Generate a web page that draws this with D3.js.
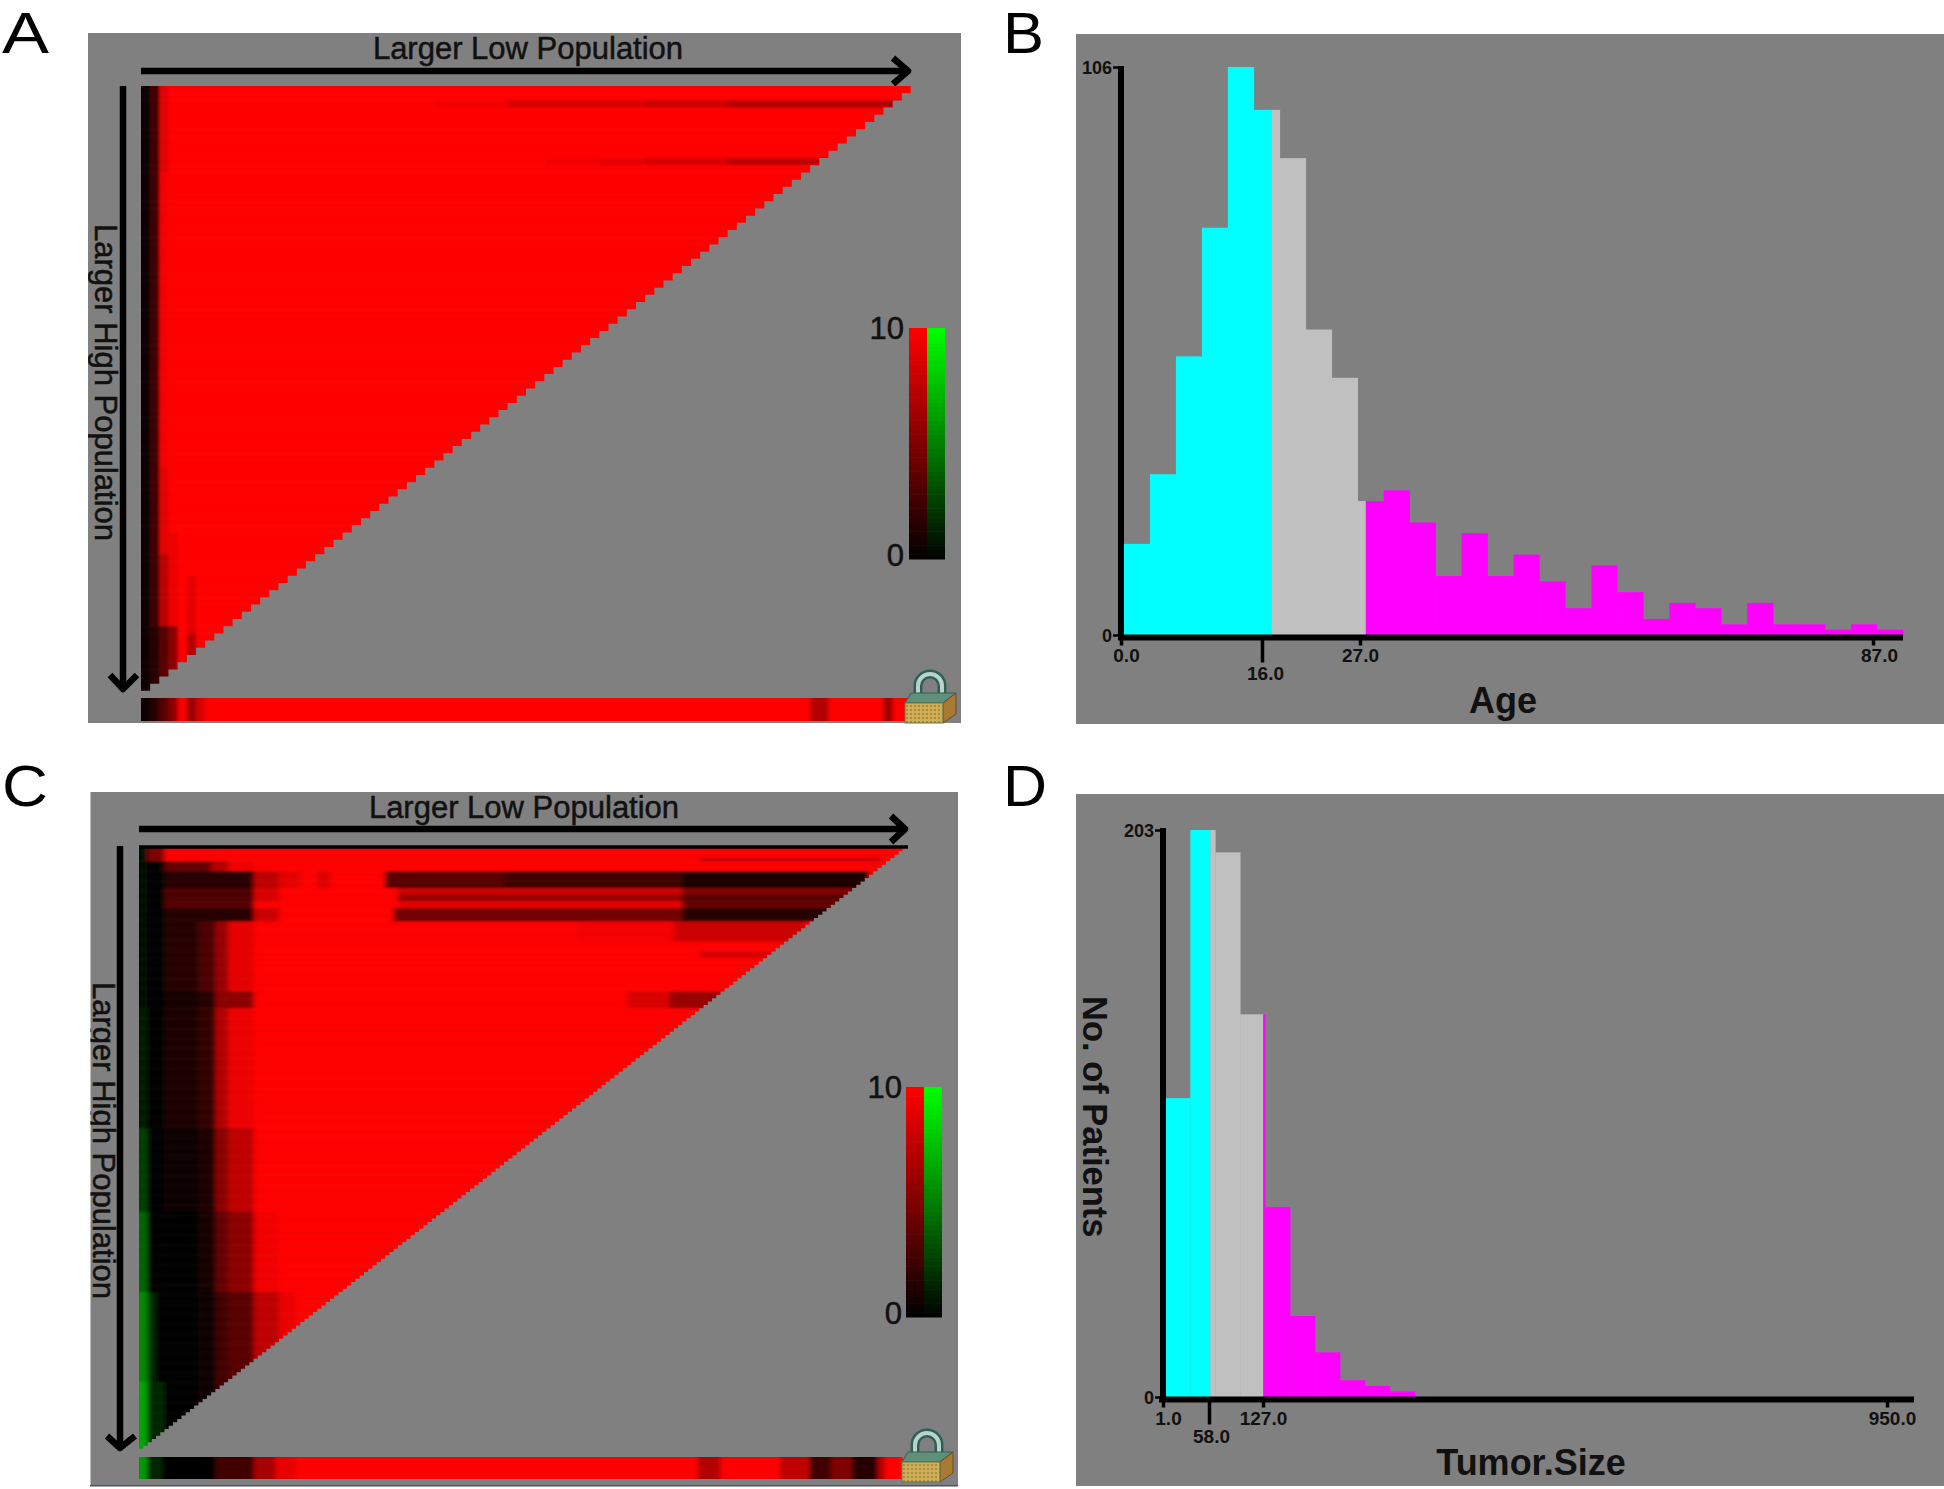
<!DOCTYPE html>
<html><head><meta charset="utf-8">
<script src="https://cdnjs.cloudflare.com/ajax/libs/d3/7.8.5/d3.min.js"></script>
<style>html,body{margin:0;padding:0;background:#fff}svg{display:block}text{font-family:"Liberation Sans",Arial,sans-serif}</style>
</head><body><svg id="fig" width="1944" height="1489"></svg>
<script>
// ---------- Data ----------
const ageBins = [17,30,52,76,106,98,89,57,48,25,27,21,11,19,11,15,10,5,13,8,3,6,5,2,6,2,2,1,2,1];
const ageDomain = [0,87];
const ageCuts = [16.45,27];
const ageTicks = [0,16,27,87];
const ageYTicks = [0,106];
const sizeBins = [107,203,195,137,68,29,16,6,4,2];
const sizeBinWidth = 31.63;
const sizeDomain = [1,950];
const sizeCuts = [58,125];
const sizeTicks = [1,58,127,950];
const sizeYTicks = [0,203];
const legendTicks = [0,10];
// heat map A / C: base value 10, patches [row0,row1,col0,col1,value], -ve = green
const gridA = 84;
const patchesA = [[0,84,0,1,0.4],[0,84,1,2,2.5],[0,12,2,3,9],[12,53,2,3,9.6],[53,65,2,3,9],[65,75,2,3,7.5],[75,84,1,2,1.5],[75,84,2,3,3.5],[62,75,3,4,9.3],[75,84,3,4,5.5],[68,76,5,6,9],[76,84,5,6,7],[2,3,32,40,9.5],[2,3,40,55,8.5],[2,3,55,64,8],[2,3,64,84,7],[10,11,44,50,9.6],[10,11,50,55,9],[10,11,55,64,8.5],[10,11,64,80,7.5]];
const stripA = [[0,1,0.3],[1,2,1.5],[2,3,3.5],[3,4,5.5],[4,5,10],[5,6,6],[6,7,8.5],[7,73,10],[73,75,7],[75,81,10],[81,82,6],[82,84,10]];
const gridC = 180;
const patchesC = [[0,180,0,2,-0.5],[0,180,2,6,0.1],[48,84,0,2,-1],[84,109,0,2,-2.5],[109,133,0,2,-4],[133,160,0,2,-5.5],[160,180,0,2,-6.5],[133,180,2,4,-1.5],[160,180,4,6,-1.5],[0,4,2,6,5],
[4,7,6,17,4],[4,7,17,21,7],[4,7,21,27,9.3],[7,12,6,27,1.5],[7,12,27,33,7.5],[7,12,33,38,9],[7,12,42,45,8.7],[12,16,6,27,3],[12,16,27,33,8.5],[16,18,6,27,3.5],[18,22,6,27,1.5],[18,22,27,33,8],
[22,43,6,14,1.5],[22,43,14,18,3],[22,43,18,21,6],[22,43,21,27,9],[43,48,6,14,0.8],[43,48,14,18,1.5],[43,48,18,27,5.5],[48,84,6,14,1],[48,84,14,18,2],[48,84,18,21,7],[48,84,21,27,9.3],
[84,109,6,14,0.5],[84,109,14,18,1.2],[84,109,18,21,5.5],[84,109,21,27,7.5],[109,133,6,14,0.2],[109,133,14,18,0.8],[109,133,18,21,4],[109,133,21,27,5.5],[109,133,27,33,9.5],[133,180,6,14,0.1],[133,180,14,18,0.5],[133,180,18,21,2.5],[133,180,21,27,3.5],[133,180,27,33,7.5],[133,180,33,37,9.3],
[3,4,132,175,7.5],[7,12,58,86,3.5],[7,12,86,128,2.5],[7,12,128,172,1],[12,14,61,128,8],[12,14,128,170,5],[14,16,61,128,6],[14,16,128,170,3.5],[16,18,61,128,9],[16,18,128,170,4],[18,22,60,128,4.5],[18,22,128,163,1.5],[22,28,126,157,8],[22,28,103,126,9.6],[31,33,132,151,8.5],[43,48,125,137,6],[43,48,115,125,8.5]];
const stripC = [[0,2,-6],[2,5.4,-1.5],[5.4,18,0.1],[18,27,2.5],[27,32,6.5],[32,37,9],[37,131.6,10],[131.6,137,7],[137,151,10],[151,158,7.5],[158,163,2.5],[163,168,5],[168,174,1.5],[174,175.7,7],[175.7,180,10]];

// ---------- Helpers ----------
const svg = d3.select("#fig");
const defs = svg.append("defs");
const heatColor = d3.scaleLinear().domain([-10,0,10]).range(["#00ff00","#000000","#ff0000"]).clamp(true);
const BG = "#808080";
const regionColors = ["#00ffff","#c0c0c0","#ff00ff"];

[["blurA","1.4 0.8"],["blurC","2.6 1.2"],["blurS","2 0.6"]].forEach(([id,s])=>{
  defs.append("filter").attr("id",id).attr("x","-5%").attr("y","-10%").attr("width","110%").attr("height","120%")
    .append("feGaussianBlur").attr("stdDeviation",s);
});
const pat = defs.append("pattern").attr("id","stipple").attr("width",4).attr("height",4).attr("patternUnits","userSpaceOnUse");
pat.append("rect").attr("width",4).attr("height",4).attr("fill","#cfae55");
pat.append("circle").attr("cx",2).attr("cy",2).attr("r",0.9).attr("fill","#9a7a3a");

function panelBg(x,y,w,h){ svg.append("rect").attr("x",x).attr("y",y).attr("width",w).attr("height",h).attr("fill",BG); }
function letter(t,x,y,w){ svg.append("text").attr("x",x).attr("y",y).attr("font-size",58).attr("fill","#000").attr("textLength",w).attr("lengthAdjust","spacingAndGlyphs").text(t); }
function heavy(sel){ return sel.attr("fill","#111").attr("stroke","#111").attr("stroke-width",0.5); }

function arrow(pts){
  svg.append("path").attr("d",d3.line()(pts)).attr("fill","none").attr("stroke","#000").attr("stroke-width",6.5).attr("stroke-linejoin","round").attr("stroke-linecap","butt");
}

function heatmap(o){
  const x = d3.scaleLinear().domain([0,o.n]).range([o.x0,o.x1]);
  const y = d3.scaleLinear().domain([0,o.n]).range([o.y0,o.y1]);
  const grid = d3.range(o.n).map(()=>d3.range(o.n).map(()=>10));
  o.patches.forEach(([r0,r1,c0,c1,v])=>{
    for(let r=r0;r<r1;r++) for(let c=c0;c<c1;c++) grid[r][c]=v;
  });
  const cells=[];
  grid.forEach((row,r)=>{
    let c0=0;
    for(let c=1;c<=o.n;c++){
      if(c===o.n||row[c]!==row[c0]){cells.push({r,c0,c1:c,v:row[c0]});c0=c;}
    }
  });
  // staircase outline
  const stair=[[x(0),y(0)],[x(o.n),y(0)]];
  for(let r=0;r<o.n;r++){ stair.push([x(o.n-r),y(r+1)]); stair.push([x(o.n-r-1),y(r+1)]); }
  defs.append("clipPath").attr("id",o.id+"-stair").append("path").attr("d",d3.line()(stair)+"Z");
  const g = svg.append("g").attr("clip-path",`url(#${o.id}-stair)`).append("g").attr("filter",`url(#${o.blur})`);
  const padL=d=>d.c0===0?8:0, padT=d=>d.r===0?8:0;
  g.selectAll("rect").data(cells).join("rect")
    .attr("x",d=>x(d.c0)-padL(d)).attr("y",d=>y(d.r)-padT(d))
    .attr("width",d=>x(d.c1)-x(d.c0)+0.4+padL(d)).attr("height",d=>y(d.r+1)-y(d.r)+0.4+padT(d))
    .attr("fill",d=>heatColor(d.v));
  // marginal strip
  defs.append("clipPath").attr("id",o.id+"-strip").append("rect").attr("x",o.x0).attr("y",o.sy0).attr("width",o.x1-o.x0).attr("height",o.sy1-o.sy0);
  svg.append("g").attr("clip-path",`url(#${o.id}-strip)`).append("g").attr("filter","url(#blurS)").selectAll("rect").data(o.strip).join("rect")
    .attr("x",d=>x(d[0])-(d[0]===0?8:0)).attr("width",d=>x(d[1])-x(d[0])+0.4+(d[0]===0?8:0))
    .attr("y",o.sy0-6).attr("height",o.sy1-o.sy0+12).attr("fill",d=>heatColor(d[2]));
}

function colorbar(x,x2,x3,y0,y1,labelX){
  const y = d3.scaleLinear().domain(legendTicks).range([y1,y0]);
  const steps = d3.range(0,10,0.2);
  const g = svg.append("g");
  g.selectAll("rect.r").data(steps).join("rect").attr("class","r")
    .attr("x",x).attr("width",x2-x).attr("y",d=>y(d+0.2)).attr("height",y(0)-y(0.2)+0.5).attr("fill",d=>heatColor(d+0.1));
  g.selectAll("rect.g").data(steps).join("rect").attr("class","g")
    .attr("x",x2).attr("width",x3-x2).attr("y",d=>y(d+0.2)).attr("height",y(0)-y(0.2)+0.5).attr("fill",d=>heatColor(-d-0.1));
  heavy(g.selectAll("text").data(legendTicks).join("text").attr("x",labelX).attr("y",d=>d===0?y(0)-4+11:y(d)+11)
    .attr("text-anchor","end").attr("font-size",31).text(d=>d));
}

function lock(x,y){
  const g = svg.append("g").attr("transform",`translate(${x},${y})`);
  const shackle="M13,32 L13,14 A12,12 0 0 1 37,14 L37,32";
  g.append("path").attr("d",shackle).attr("fill","none").attr("stroke","#2f5f54").attr("stroke-width",9);
  g.append("path").attr("d",shackle).attr("fill","none").attr("stroke","#b9d2ca").attr("stroke-width",4);
  g.append("path").attr("d","M0,31 L6,21 L51,21 L38,31 Z").attr("fill","#5f917a").attr("stroke","#2f5f54");
  g.append("path").attr("d","M38,31 L51,21 L51,42 L38,51 Z").attr("fill","#a87a34").attr("stroke","#6b4d20");
  g.append("rect").attr("x",0).attr("y",31).attr("width",38).attr("height",20).attr("fill","url(#stipple)").attr("stroke","#5f7a50");
}

function hist(o){
  const x = d3.scaleLinear().domain(o.domain).range(o.xRange);
  const y = d3.scaleLinear().domain(o.yTicks).range(o.yRange);
  const segs=[];
  const edges=[o.domain[0],...o.cuts,Infinity];
  o.bins.forEach((v,i)=>{
    const a=o.domain[0]+i*o.binWidth, b=a+o.binWidth;
    for(let k=0;k<3;k++){
      const l=Math.max(a,edges[k]), r=Math.min(b,edges[k+1]);
      if(r>l) segs.push({l,r,v,k});
    }
  });
  svg.append("g").selectAll("rect").data(segs).join("rect")
    .attr("x",d=>x(d.l)).attr("width",d=>x(d.r)-x(d.l)+0.3)
    .attr("y",d=>y(d.v)).attr("height",d=>y(0)-y(d.v))
    .attr("fill",d=>regionColors[d.k]);
  // axes
  const ax = d3.scaleLinear().domain(o.ticks).range(o.tickPx);
  const gx = svg.append("g").attr("transform",`translate(0,${o.axisY})`)
    .call(d3.axisBottom(ax).tickValues(o.ticks).tickFormat(d3.format(".1f")).tickSize(8).tickSizeOuter(0));
  gx.select(".domain").attr("stroke-width",6).attr("d",`M${o.axisX0},0H${o.axisX1}`);
  gx.selectAll(".tick line").attr("stroke","#000").attr("stroke-width",3.5)
    .attr("y2",(d,i)=>i===1?o.longTick:8);
  gx.selectAll(".tick text").attr("font-family","Liberation Sans").attr("font-weight","bold").attr("font-size",19).attr("fill","#111")
    .attr("dx",(d,i)=>o.labelDx[i]).attr("dy",0).attr("y",(d,i)=>i===1?o.labelY2:o.labelY1);
  const ay = d3.scaleLinear().domain(o.yTicks).range(o.yRange);
  const gy = svg.append("g").attr("transform",`translate(${o.axisX},0)`)
    .call(d3.axisLeft(ay).tickValues(o.yTicks).tickSize(8).tickPadding(1).tickSizeOuter(0));
  gy.select(".domain").attr("stroke-width",6).attr("d",`M0,${o.yTop}V${o.axisY+2}`);
  gy.selectAll(".tick line").attr("stroke","#000").attr("stroke-width",2.5);
  gy.selectAll(".tick text").attr("font-family","Liberation Sans").attr("font-weight","bold").attr("font-size",18).attr("dy","0.36em").attr("fill","#111");
  svg.append("text").attr("x",o.title.x).attr("y",o.title.y).attr("text-anchor","middle").attr("font-weight","bold").attr("font-size",36).attr("fill","#111").text(o.title.t);
}

// ---------- Panel A ----------
panelBg(88,33,873,690);
letter("A",2,53,47);
heavy(svg.append("text").attr("x",528).attr("y",59).attr("text-anchor","middle").attr("font-size",31).text("Larger Low Population"));
arrow([[141,71],[906,71]]); arrow([[893,58],[908,71],[893,84]]);
heatmap({id:"A",blur:"blurA",n:gridA,patches:patchesA,strip:stripA,x0:141,x1:911,y0:86,y1:691,sy0:698,sy1:721});
arrow([[123,86],[123,686]]); arrow([[110,675],[123,689],[137,675]]);
defs.append("clipPath").attr("id","pA").append("rect").attr("x",88).attr("y",33).attr("width",873).attr("height",690);
heavy(svg.append("g").attr("clip-path","url(#pA)").append("text").attr("transform","translate(95,224) rotate(90)").attr("font-size",31).text("Larger High Population"));
colorbar(909,927,945,328,559,904);
lock(905,672);

// ---------- Panel B ----------
panelBg(1076,34,868,690);
letter("B",1003,53,41);
hist({bins:ageBins,binWidth:2.9,domain:ageDomain,cuts:ageCuts,ticks:ageTicks,yTicks:ageYTicks,
  xRange:[1124,1903],yRange:[635,67],tickPx:[1121,1262,1360,1873],axisY:637.5,axisX:1121,axisX0:1118,axisX1:1903,yTop:66,
  longTick:25,labelY1:24,labelY2:42,labelDx:[5,3,0,6],title:{t:"Age",x:1503,y:713}});

// ---------- Panel C ----------
panelBg(90.5,792,867.5,693);
svg.append("rect").attr("x",90).attr("y",1485).attr("width",868).attr("height",1.5).attr("fill","#4a5560");
letter("C",2,806,46);
heavy(svg.append("text").attr("x",524).attr("y",818).attr("text-anchor","middle").attr("font-size",31).text("Larger Low Population"));
arrow([[139,829],[903,829]]); arrow([[891,816],[905,829],[891,842]]);
heatmap({id:"C",blur:"blurC",n:gridC,patches:patchesC,strip:stripC,x0:139,x1:903,y0:848,y1:1449,sy0:1457,sy1:1479});
svg.append("path").attr("d","M139,847H908").attr("stroke","#000").attr("stroke-width",3.5);
arrow([[120,846],[120,1445]]); arrow([[107,1436],[120,1448],[135,1436]]);
defs.append("clipPath").attr("id","pC").append("rect").attr("x",90.5).attr("y",792).attr("width",867).attr("height",693);
heavy(svg.append("g").attr("clip-path","url(#pC)").append("text").attr("transform","translate(93,982) rotate(90)").attr("font-size",31).text("Larger High Population"));
colorbar(906,924,942,1087,1317,902);
lock(902,1431);

// ---------- Panel D ----------
panelBg(1076,794,868,692);
letter("D",1003,806,44);
hist({bins:sizeBins,binWidth:sizeBinWidth,domain:sizeDomain,cuts:sizeCuts,ticks:sizeTicks,yTicks:sizeYTicks,
  xRange:[1165.4,1914],yRange:[1397,830],tickPx:[1163,1209,1263,1887],axisY:1399.5,axisX:1163,axisX0:1159,axisX1:1914,yTop:828,
  longTick:25,labelY1:25,labelY2:43,labelDx:[5,2,0,5],title:{t:"Tumor.Size",x:1531,y:1475}});
svg.append("text").attr("transform","translate(1083,996) rotate(90)").attr("font-weight","bold").attr("font-size",34.5).attr("fill","#111").text("No. of Patients");
</script></body></html>
